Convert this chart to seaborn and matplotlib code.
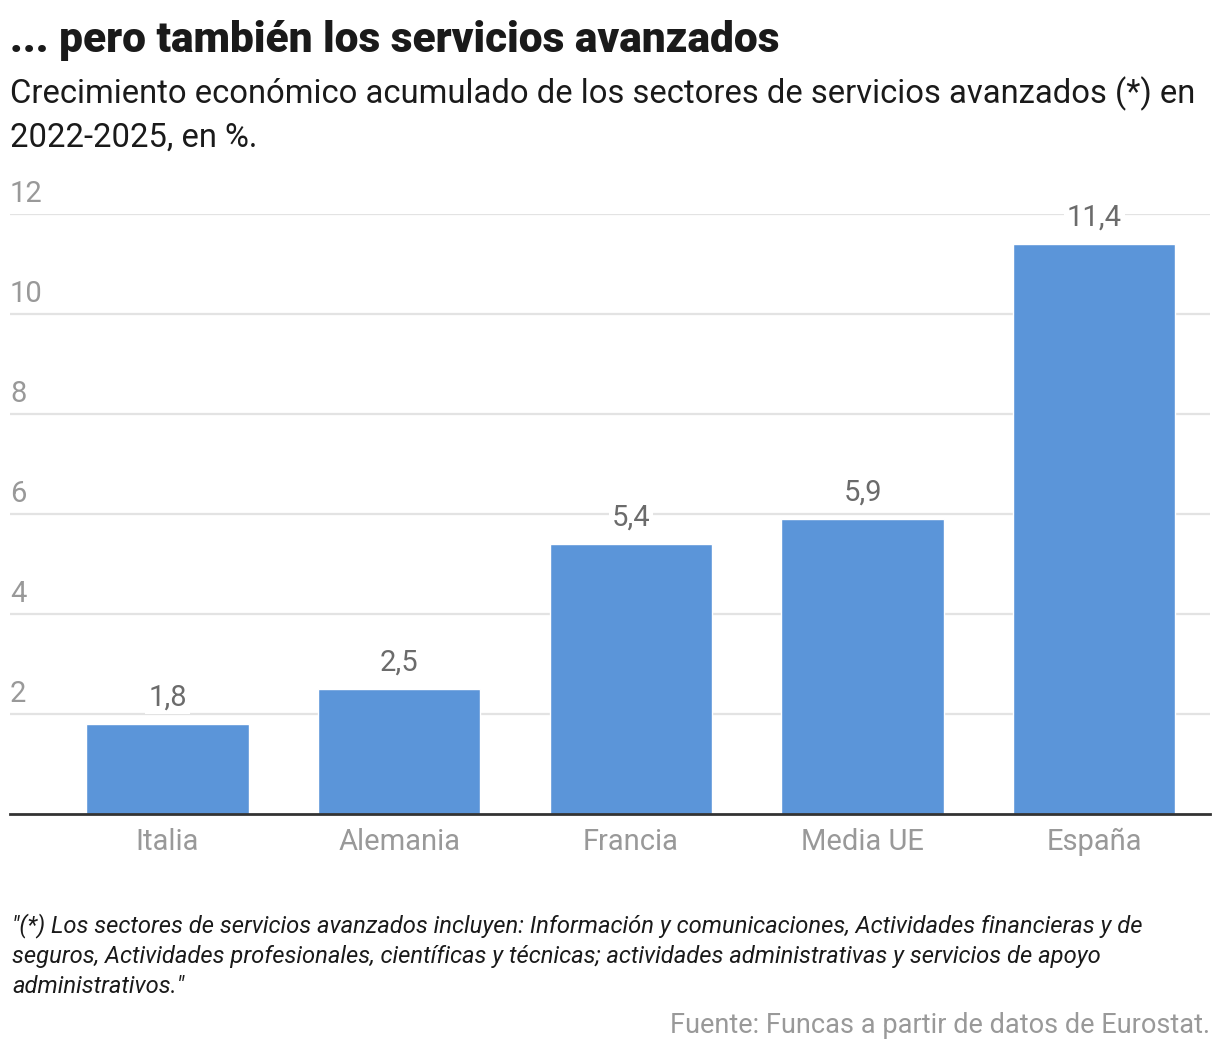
import matplotlib
matplotlib.use('Agg')
from matplotlib import pyplot as plt
import seaborn as sns
import pandas as pd

sns.set_style('white')
plt.rcParams['font.family'] = ['Roboto', 'DejaVu Sans']

countries = ['Italia', 'Alemania', 'Francia', 'Media UE', 'España']
growth = [1.8, 2.5, 5.4, 5.9, 11.4]
yticks = [2, 4, 6, 8, 10, 12]

BAR = '#5b95d9'
GRID = '#e3e3e3'
TICK = '#999999'

df = pd.DataFrame({'pais': countries, 'crecimiento': growth})

fig = plt.figure(figsize=(12.2, 10.54), dpi=100)
ax = fig.add_axes([0.0082, 0.2277, 0.9836, 0.797 - 0.2277])

sns.barplot(data=df, x='pais', y='crecimiento', color=BAR, saturation=1,
            width=0.7, ax=ax, zorder=3)

ax.set_xlim(-0.68, 4.5)
ax.set_ylim(0, 12)
ax.set_yticks(yticks)
ax.set_yticklabels([])
ax.tick_params(axis='y', length=0)
ax.tick_params(axis='x', length=0, pad=10, labelsize=21, labelcolor=TICK)
ax.set_xlabel('')
ax.set_ylabel('')
for s in ['top', 'right', 'left']:
    ax.spines[s].set_visible(False)
ax.spines['bottom'].set_color('#333333')
ax.spines['bottom'].set_linewidth(2)
ax.spines['bottom'].set_zorder(5)

# gridlines with labels sitting just above them
for t in yticks:
    ax.axhline(t, color=GRID, lw=1.6, zorder=1)
    ax.annotate(str(t), xy=(0, t), xycoords=('axes fraction', 'data'),
                xytext=(0, 4), textcoords='offset points',
                ha='left', va='bottom', fontsize=21, color=TICK)

for p, v in zip(ax.patches, growth):
    ax.annotate(f'{v:.1f}'.replace('.', ','),
                xy=(p.get_x() + p.get_width() / 2, p.get_height()),
                xytext=(0, 9), textcoords='offset points',
                ha='center', va='bottom', fontsize=21, color='#6b6b6b',
                zorder=6, annotation_clip=False,
                bbox=dict(boxstyle='square,pad=0.1', fc='white', ec='none'))

fig.text(0.0082, 0.951, '... pero también los servicios avanzados',
         fontsize=30.5, fontweight='black', color='#1a1a1a', ha='left', va='baseline')
fig.text(0.0082, 0.902, 'Crecimiento económico acumulado de los sectores de servicios avanzados (*) en',
         fontsize=23.6, color='#1a1a1a', ha='left', va='baseline')
fig.text(0.0082, 0.861, '2022-2025, en %.',
         fontsize=23.6, color='#1a1a1a', ha='left', va='baseline')

fig.text(0.0098, 0.053,
         '"(*) Los sectores de servicios avanzados incluyen: Información y comunicaciones, Actividades financieras y de\n'
         'seguros, Actividades profesionales, científicas y técnicas; actividades administrativas y servicios de apoyo\n'
         'administrativos."',
         fontsize=17.1, fontstyle='italic', color='#1a1a1a', ha='left', va='bottom',
         linespacing=1.38)
fig.text(0.9918, 0.014, 'Fuente: Funcas a partir de datos de Eurostat.',
         fontsize=19.5, color=TICK, ha='right', va='bottom')

fig.savefig('out.png', dpi=100)
